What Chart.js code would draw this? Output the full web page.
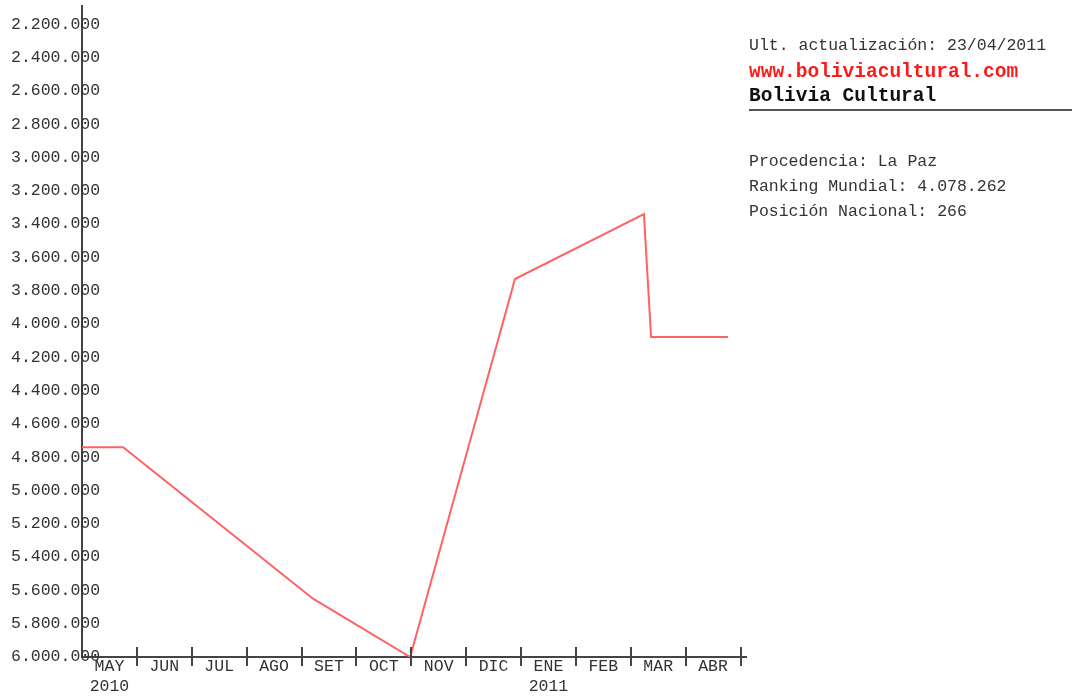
<!DOCTYPE html>
<html>
<head>
<meta charset="utf-8">
<script src="https://cdn.jsdelivr.net/npm/chart.js@4/dist/chart.umd.min.js"></script>
<style>
  html, body { margin: 0; padding: 0; background: #fff; }
  #wrap { width: 1072px; height: 696px; }
</style>
</head>
<body>
<div id="wrap"><canvas id="rankingChart"></canvas></div>
<script>
// meses (eje x) y puntos del ranking, x = mes desde MAY 2010
const meses = [['MAY', '2010'], 'JUN', 'JUL', 'AGO', 'SET', 'OCT', 'NOV', 'DIC', ['ENE', '2011'], 'FEB', 'MAR', 'ABR'];
const fechas = [0, 0.75, 4.21, 5.98, 7.89, 10.24, 10.37, 11.77];
const ranking = [4740000, 4740000, 5650000, 6000000, 3730000, 3340000, 4078262, 4078262];
const ticksY = [2200000, 2400000, 2600000, 2800000, 3000000, 3200000, 3400000, 3600000, 3800000, 4000000,
    4200000, 4400000, 4600000, 4800000, 5000000, 5200000, 5400000, 5600000, 5800000, 6000000];
const infoLineas = ['Procedencia: La Paz', 'Ranking Mundial: 4.078.262', 'Posición Nacional: 266'];

const fuente = 'Liberation Mono, DejaVu Sans Mono, monospace';

function puntos(n) {
    return String(n).replace(/\B(?=(\d{3})+(?!\d))/g, '.');
}

document.addEventListener('DOMContentLoaded', function () {

    // marcas de cada mes y textos de la derecha
    const extras = {
        id: 'extras',
        afterDraw(chart) {
            const ctx = chart.ctx;
            const x = chart.scales.x;
            const base = chart.chartArea.bottom;
            ctx.save();
            ctx.strokeStyle = '#444';
            ctx.lineWidth = 2;
            for (let i = 1; i <= meses.length; i++) {
                const px = Math.round(x.getPixelForValue(i));
                ctx.beginPath();
                ctx.moveTo(px, base - 10);
                ctx.lineTo(px, base + 9);
                ctx.stroke();
            }

            const tx = 749;
            ctx.textBaseline = 'middle';
            ctx.textAlign = 'left';
            ctx.fillStyle = '#333';
            ctx.font = '16.5px ' + fuente;
            ctx.fillText('Ult. actualización: 23/04/2011', tx, 46);
            ctx.fillStyle = '#ff1a1a';
            ctx.font = 'bold 19.5px ' + fuente;
            ctx.fillText('www.boliviacultural.com', tx, 72);
            ctx.fillStyle = '#111';
            ctx.fillText('Bolivia Cultural', tx, 96);

            ctx.strokeStyle = '#555';
            ctx.beginPath();
            ctx.moveTo(tx, 110);
            ctx.lineTo(1072, 110);
            ctx.stroke();

            ctx.fillStyle = '#333';
            ctx.font = '16.5px ' + fuente;
            infoLineas.forEach(function (t, i) {
                ctx.fillText(t, tx, 162 + i * 25);
            });
            ctx.restore();
        }
    };

    const ctx = document.getElementById('rankingChart').getContext('2d');
    new Chart(ctx, {
        type: 'line',
        data: {
            datasets: [{
                data: fechas.map((f, i) => ({ x: f, y: ranking[i] })),
                borderColor: '#ff6262',
                borderWidth: 2,
                pointRadius: 0,
                tension: 0
            }]
        },
        options: {
            responsive: true,
            maintainAspectRatio: false,
            animation: false,
            layout: { padding: { top: 6, right: 326, bottom: 0, left: 0 } },
            plugins: {
                legend: { display: false },
                tooltip: { enabled: false }
            },
            scales: {
                x: {
                    type: 'linear',
                    min: 0,
                    max: 12.1,
                    grid: { display: false, drawTicks: false },
                    border: { display: true, color: '#444', width: 2 },
                    afterBuildTicks: function (scale) {
                        scale.ticks = meses.map((m, i) => ({ value: i + 0.5 }));
                    },
                    afterFit: function (scale) { scale.height = 39; },
                    ticks: {
                        autoSkip: false,
                        maxRotation: 0,
                        padding: 0,
                        color: '#333',
                        font: { family: fuente, size: 16.5 },
                        callback: function (v) { return meses[Math.floor(v)]; }
                    }
                },
                y: {
                    reverse: true,
                    min: 2090000,
                    max: 6000000,
                    grid: { display: false, drawTicks: false },
                    border: { display: true, color: '#444', width: 2 },
                    afterBuildTicks: function (scale) {
                        scale.ticks = ticksY.map(v => ({ value: v }));
                    },
                    afterFit: function (scale) { scale.width = 82; },
                    ticks: {
                        // mirror evita el recorte; las etiquetas empiezan en x=11
                        mirror: true,
                        padding: -71,
                        color: '#333',
                        font: { family: fuente, size: 16.5 },
                        callback: function (v) { return puntos(v); }
                    }
                }
            }
        },
        plugins: [extras]
    });

});
</script>
</body>
</html>
